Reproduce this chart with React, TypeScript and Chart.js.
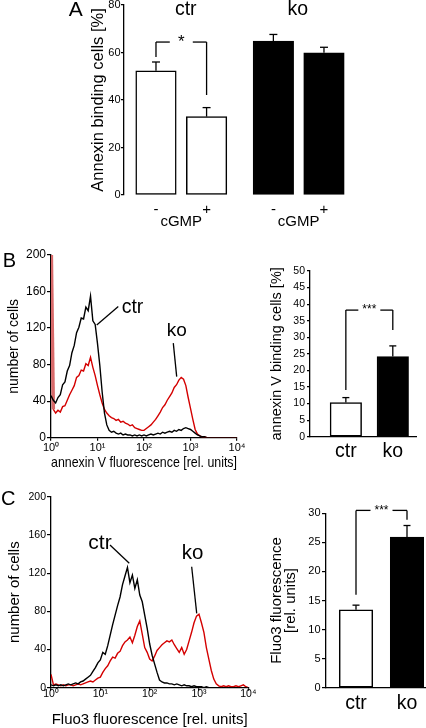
import React, { useEffect, useRef } from 'react';
import { Chart, registerables } from 'chart.js';

Chart.register(...registerables);

const FONT = '"Liberation Sans", Arial, Helvetica, sans-serif';
const RED = '#d40000';
const SPIKE = '#d86a6a';

// ---------- Panel A: annexin binding, ctr / ko, -/+ cGMP ----------
const A_GROUPS = ['ctr', 'ko'];
const A_TREATMENT = ['-', '+', '-', '+'];
const A_VALUES = [52.3, 33.0, 64.8, 59.9];
const A_ERRORS = [3.7, 3.8, 2.8, 2.3];
const A_AXIS_LABEL = 'cGMP';

// ---------- Panel B/C histograms (1 channel = 0.05 decade, from 10^0 to 10^4) ----------
const DECADE_LABELS = ['10⁰', '10¹', '10²', '10³', '10⁴'];
const B_CTR_COUNTS = [
  46, 41, 38, 44, 47, 58, 61, 73, 79, 93, 101, 115, 121, 131, 130, 143, 139, 155, 128, 124,
  103, 79, 50, 27, 14, 8, 6, 7, 5, 4, 5, 3, 4, 3, 3, 2, 3, 2, 3, 2,
  3, 2, 3, 4, 3, 4, 5, 4, 6, 5, 6, 7, 6, 8, 7, 9, 8, 10, 11, 10,
  9, 7, 5, 3, 2, 1, 1, 0, 0, 0, 0, 0, 0, 0, 0, 0, 0, 0, 0, 0,
  0,
];
const B_KO_COUNTS = [
  230, 31, 27, 30, 28, 34, 35, 41, 47, 52, 57, 66, 68, 74, 73, 81, 79, 88, 77, 68,
  57, 47, 38, 31, 27, 24, 22, 21, 19, 20, 17, 18, 16, 15, 13, 14, 11, 10, 9, 8,
  8, 10, 12, 14, 17, 20, 24, 28, 33, 36, 41, 45, 49, 55, 58, 63, 66, 64, 57, 44,
  32, 20, 9, 4, 2, 1, 1, 0, 0, 0, 0, 0, 0, 0, 0, 0, 0, 0, 0, 0,
  0,
];
const C_CTR_COUNTS = [
  3, 2, 3, 2, 3, 2, 3, 4, 3, 4, 5, 4, 6, 7, 9, 11, 13, 17, 21, 26,
  29, 37, 35, 44, 55, 66, 76, 86, 95, 108, 117, 126, 110, 118, 104, 113, 97, 90, 76, 62,
  46, 34, 25, 16, 8, 6, 5, 5, 4, 4, 3, 4, 3, 2, 3, 2, 2, 1, 2, 1,
  1, 1, 0, 1, 0, 0, 0, 0, 0, 0, 0, 0, 0, 0, 0, 0, 0, 0, 0, 0,
  0,
];
const C_KO_COUNTS = [
  14, 3, 4, 3, 2, 3, 2, 3, 3, 2, 3, 4, 3, 4, 5, 6, 7, 6, 8, 10,
  11, 16, 20, 23, 28, 32, 31, 36, 38, 44, 48, 50, 53, 47, 55, 64, 70, 56, 42, 37,
  30, 28, 33, 39, 42, 45, 47, 49, 48, 50, 45, 41, 37, 42, 35, 40, 49, 58, 68, 75,
  77, 68, 58, 42, 30, 18, 9, 4, 2, 1, 2, 1, 2, 1, 1, 2, 1, 2, 3, 1,
  0,
];
const CHANNEL_STEP = 0.05;

// ---------- Panel B/C bar summaries ----------
const SUMMARY_GROUPS = ['ctr', 'ko'];
const B_BAR_VALUES = [10.3, 24.2];
const B_BAR_ERRORS = [1.5, 3.2];
const C_BAR_VALUES = [13.4, 25.9];
const C_BAR_ERRORS = [0.8, 2.0];

// ---------- layout (scale units) ----------
const A_POS = [1, 2, 3.32, 4.32];
const A_GROUP_LABEL_POS = [1.589, 3.803];
const B_POS = [0.336, 0.776];
const C_POS = [0.3, 0.81];

function seg(ctx: CanvasRenderingContext2D, x1: number, y1: number, x2: number, y2: number) {
  ctx.beginPath();
  ctx.moveTo(x1, y1);
  ctx.lineTo(x2, y2);
  ctx.stroke();
}
function txt(ctx: CanvasRenderingContext2D, s: string, x: number, y: number, size: number) {
  ctx.font = `${size}px ${FONT}`;
  ctx.textAlign = 'center';
  ctx.textBaseline = 'middle';
  ctx.fillText(s, x, y);
}
function errorBar(ctx: any, xs: any, ys: any, pos: number, v: number, e: number, cap: number) {
  const px = xs.getPixelForValue(pos);
  const t = ys.getPixelForValue(v + e);
  seg(ctx, px, ys.getPixelForValue(v), px, t);
  seg(ctx, px - cap, t, px + cap, t);
}
function bracket(ctx: any, xs: any, ys: any, p0: number, p1: number, foot0: number, top: number, foot1: number, label: string, halfGap: number, size: number) {
  const x0 = xs.getPixelForValue(p0);
  const x1 = xs.getPixelForValue(p1);
  const yt = ys.getPixelForValue(top);
  const mid = (x0 + x1) / 2;
  seg(ctx, x0, ys.getPixelForValue(foot0), x0, yt);
  seg(ctx, x0, yt, mid - halfGap, yt);
  seg(ctx, mid + halfGap, yt, x1, yt);
  seg(ctx, x1, yt, x1, ys.getPixelForValue(foot1));
  txt(ctx, label, mid, yt, size);
}

function yAxis(min: number, max: number, step: number, fontSize: number, tickLength: number, padding: number, width: number, title: any) {
  return {
    min, max,
    ticks: { stepSize: step, color: '#000', font: { family: FONT, size: fontSize }, padding, autoSkip: false },
    grid: { display: true, drawOnChartArea: false, drawTicks: true, tickLength, color: '#000', lineWidth: 1.2 },
    border: { display: true, color: '#000', width: 1.3 },
    title,
    afterFit: (s: any) => { s.width = width; },
  };
}

const baseOptions = {
  responsive: false,
  animation: false,
  devicePixelRatio: 1,
  events: [],
};

// ---------- configs ----------
function configA(): any {
  return {
    type: 'bar',
    data: {
      datasets: [{
        data: A_VALUES.map((v, i) => ({ x: A_POS[i], y: v })),
        backgroundColor: A_VALUES.map((_, i) => (i < 2 ? '#ffffff' : '#000000')),
        borderColor: '#000',
        borderWidth: 1.5,
        borderSkipped: false,
        barThickness: 40.5,
      }],
    },
    options: {
      ...baseOptions,
      layout: { padding: { left: 0, right: 0, top: 10, bottom: 0 } },
      plugins: { legend: { display: false }, tooltip: { enabled: false } },
      scales: {
        x: {
          type: 'linear', min: 0.358, max: 5.032, offset: false,
          ticks: { display: false },
          grid: { display: false, drawTicks: false, offset: false },
          border: { display: false },
          afterFit: (s: any) => { s.height = 40; },
        },
        y: yAxis(0, 80, 20, 11, 2.5, 0.5, 63.5, {
          display: true, text: 'Annexin binding cells [%]', color: '#000',
          font: { family: FONT, size: 16.5 }, padding: { top: 29, bottom: 0 },
        }),
      },
    },
    plugins: [{
      id: 'annA',
      afterDraw(chart: any) {
        const { ctx, scales: { x, y } } = chart;
        ctx.save();
        ctx.fillStyle = '#000';
        ctx.strokeStyle = '#000';
        ctx.lineWidth = 1.3;
        A_VALUES.forEach((v, i) => errorBar(ctx, x, y, A_POS[i], v, A_ERRORS[i], 4));
        bracket(ctx, x, y, A_POS[0], A_POS[1], 58.1, 64.4, 42.1, '*', 11.5, 17);
        txt(ctx, 'A', 15.8, 15, 21);
        A_GROUPS.forEach((g, gi) => {
          txt(ctx, g, x.getPixelForValue(A_GROUP_LABEL_POS[gi]), 14.5, 19.5);
          const c = (x.getPixelForValue(A_POS[gi * 2]) + x.getPixelForValue(A_POS[gi * 2 + 1])) / 2;
          txt(ctx, A_AXIS_LABEL, c, 226.7, 15);
        });
        A_TREATMENT.forEach((t, i) => txt(ctx, t, x.getPixelForValue(A_POS[i]), 214.5, 15));
        ctx.restore();
      },
    }],
  };
}

function histConfig(ctr: number[], ko: number[], o: any): any {
  return {
    type: 'line',
    data: {
      datasets: [
        { data: ctr.map((v, i) => ({ x: i * CHANNEL_STEP, y: v })), borderColor: '#000', borderWidth: 1.4, pointRadius: 0, tension: 0 },
        {
          data: ko.map((v, i) => ({ x: i * CHANNEL_STEP, y: v })), borderColor: RED, borderWidth: 1.4, pointRadius: 0, tension: 0,
          segment: o.spike ? {
            borderWidth: (c: any) => (c.p0DataIndex === 0 ? 3.5 : 1.4),
            borderColor: (c: any) => (c.p0DataIndex === 0 ? SPIKE : RED),
          } : undefined,
        },
      ],
    },
    options: {
      ...baseOptions,
      layout: { padding: { left: 0, right: o.padRight, top: o.padTop, bottom: 0 } },
      plugins: { legend: { display: false }, tooltip: { enabled: false } },
      scales: {
        x: {
          type: 'linear', min: 0, max: 4, offset: false,
          ticks: {
            stepSize: 1, color: '#000', font: { family: FONT, size: o.xTickSize }, padding: o.xTickPad,
            maxRotation: 0, autoSkip: false,
            callback: (_v: any, i: number) => DECADE_LABELS[i],
          },
          grid: { display: true, drawOnChartArea: false, drawTicks: true, tickLength: 3, color: '#000', lineWidth: 1.2 },
          border: { display: true, color: '#000', width: 1.3 },
          title: {
            display: true, text: o.xTitle, color: '#000',
            font: { family: FONT, size: o.xTitleSize, lineHeight: 1 }, padding: { top: 0, bottom: o.xTitlePad },
          },
          afterFit: (s: any) => { s.height = o.xHeight; },
        },
        y: yAxis(0, 200, 40, o.yTickSize, 4, 1, 51, {
          display: true, text: 'number of cells', color: '#000',
          font: { family: FONT, size: o.yTitleSize }, padding: { top: 6, bottom: 0 },
        }),
      },
    },
    plugins: [{
      id: 'annHist',
      afterDraw(chart: any) {
        const { ctx, scales: { x, y } } = chart;
        ctx.save();
        ctx.fillStyle = '#000';
        ctx.strokeStyle = '#000';
        ctx.lineWidth = 1.3;
        txt(ctx, o.letter, o.letterPos[0], o.letterPos[1], 20);
        o.notes.forEach((n: any) => {
          txt(ctx, n.label, x.getPixelForValue(n.text[0]), y.getPixelForValue(n.text[1]), n.size);
          seg(ctx, x.getPixelForValue(n.line[0]), y.getPixelForValue(n.line[1]), x.getPixelForValue(n.line[2]), y.getPixelForValue(n.line[3]));
        });
        ctx.restore();
      },
    }],
  };
}

function summaryConfig(values: number[], errors: number[], pos: number[], o: any): any {
  return {
    type: 'bar',
    data: {
      datasets: [{
        data: values.map((v, i) => ({ x: pos[i], y: v })),
        backgroundColor: ['#ffffff', '#000000'],
        borderColor: '#000',
        borderWidth: 1.5,
        borderSkipped: false,
        barThickness: o.barWidth,
      }],
    },
    options: {
      ...baseOptions,
      layout: { padding: { left: 0, right: o.padRight, top: o.padTop, bottom: 0 } },
      plugins: { legend: { display: false }, tooltip: { enabled: false } },
      scales: {
        x: {
          type: 'linear', min: 0, max: 1, offset: false,
          afterBuildTicks: (s: any) => { s.ticks = pos.map((p) => ({ value: p })); },
          ticks: {
            color: '#000', font: { family: FONT, size: 19.5 }, padding: o.xTickPad,
            maxRotation: 0, autoSkip: false,
            callback: (_v: any, i: number) => SUMMARY_GROUPS[i],
          },
          grid: { display: false, drawTicks: false, offset: false },
          border: { display: true, color: '#000', width: 1.3 },
          afterFit: (s: any) => { s.height = o.xHeight; },
        },
        y: yAxis(0, o.yMax, 5, o.yTickSize, o.yTickLen, o.yTickPad, o.yWidth, o.yTitle),
      },
    },
    plugins: [{
      id: 'annBars',
      afterDraw(chart: any) {
        const { ctx, scales: { x, y } } = chart;
        ctx.save();
        ctx.fillStyle = '#000';
        ctx.strokeStyle = '#000';
        ctx.lineWidth = 1.3;
        values.forEach((v, i) => errorBar(ctx, x, y, pos[i], v, errors[i], 3.5));
        const b = o.bracket;
        bracket(ctx, x, y, pos[0], pos[1], b[0], b[1], b[2], '***', 11, 12);
        ctx.restore();
      },
    }],
  };
}

function ChartBox({ left, top, width, height, make }: { left: number; top: number; width: number; height: number; make: () => any }) {
  const ref = useRef<HTMLCanvasElement>(null);
  useEffect(() => {
    const chart = new Chart(ref.current as HTMLCanvasElement, make());
    return () => chart.destroy();
  }, []);
  return (
    <canvas
      ref={ref}
      width={width}
      height={height}
      style={{ position: 'absolute', left, top, width, height, display: 'block' }}
    />
  );
}

export default function App() {
  return (
    <div style={{ position: 'absolute', left: 0, top: 0, width: 426, height: 728, background: '#fff', overflow: 'hidden' }}>
      <ChartBox left={60} top={-5} width={300} height={240} make={configA} />
      <ChartBox
        left={0} top={245} width={262} height={225}
        make={() => histConfig(B_CTR_COUNTS, B_KO_COUNTS, {
          padRight: 25, padTop: 10, xTickSize: 11, xTickPad: 1, xHeight: 32.3, spike: true,
          xTitle: 'annexin V fluorescence [rel. units]', xTitleSize: 14.5, xTitlePad: 0,
          yTickSize: 12, yTitleSize: 14,
          letter: 'B', letterPos: [9.5, 16.5],
          notes: [
            { label: 'ctr', size: 19.5, text: [1.753, 142], line: [1.447, 143.6, 0.983, 123.5] },
            { label: 'ko', size: 19, text: [2.703, 117], line: [2.63, 103.5, 2.703, 66.8] },
          ],
        })}
      />
      <ChartBox
        left={262} top={255} width={164} height={215}
        make={() => summaryConfig(B_BAR_VALUES, B_BAR_ERRORS, B_POS, {
          barWidth: 31.5, padRight: 9.3, padTop: 16, xTickPad: 3.3, xHeight: 33.3,
          yMax: 50, yTickSize: 10.5, yTickLen: 3, yTickPad: 2, yWidth: 48,
          yTitle: {
            display: true, text: 'annexin V binding cells [%]', color: '#000',
            font: { family: FONT, size: 14.5 }, padding: { top: 6, bottom: 0 },
          },
          bracket: [14.1, 38.2, 32.2],
        })}
      />
      <ChartBox
        left={0} top={485} width={262} height={243}
        make={() => histConfig(C_CTR_COUNTS, C_KO_COUNTS, {
          padRight: 13.7, padTop: 11.7, xTickSize: 10.5, xTickPad: -3, xHeight: 40.3, spike: false,
          xTitle: 'Fluo3 fluorescence [rel. units]', xTitleSize: 15, xTitlePad: 0.5,
          yTickSize: 10.5, yTitleSize: 15,
          letter: 'C', letterPos: [8.3, 14],
          notes: [
            { label: 'ctr', size: 21, text: [0.993, 151.5], line: [1.196, 149.4, 1.587, 130.3] },
            { label: 'ko', size: 20.5, text: [2.868, 140.5], line: [2.852, 126.7, 2.954, 77.9] },
          ],
        })}
      />
      <ChartBox
        left={262} top={495} width={164} height={233}
        make={() => summaryConfig(C_BAR_VALUES, C_BAR_ERRORS, C_POS, {
          barWidth: 33.5, padRight: 0, padTop: 18.3, xTickPad: 4, xHeight: 40.3,
          yMax: 30, yTickSize: 11, yTickLen: 4, yTickPad: 1.5, yWidth: 64,
          yTitle: {
            display: true, text: ['Fluo3 fluorescence', '[rel. units]'], color: '#000',
            font: { family: FONT, size: 15, lineHeight: 0.9 }, padding: { top: 8.5, bottom: 0 },
          },
          bracket: [16, 30.5, 28.9],
        })}
      />
    </div>
  );
}
